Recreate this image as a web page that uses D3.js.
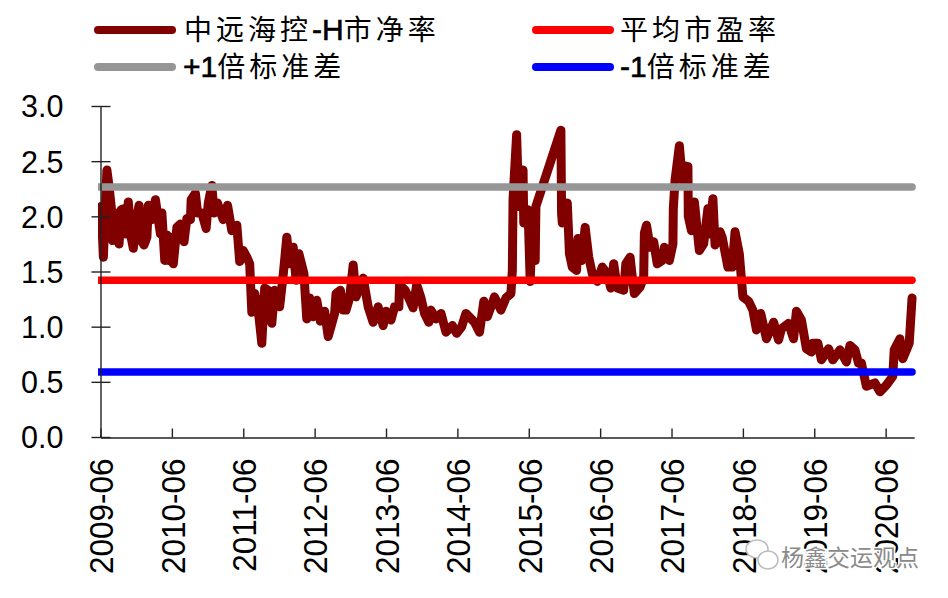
<!DOCTYPE html>
<html>
<head>
<meta charset="utf-8">
<script src="https://cdnjs.cloudflare.com/ajax/libs/d3/7.8.5/d3.min.js"></script>
<style>
html, body { margin: 0; padding: 0; background: #fff; }
text { font-family: "Liberation Sans", "Noto Sans CJK SC", sans-serif; fill: #000; }
</style>
</head>
<body>
<div id="chart"></div>
<script>
// decimal year of each reading
var years = [
	2009.43,2009.46,2009.48,2009.51,2009.54,2009.57,2009.59,2009.63,2009.68,2009.71,2009.75,2009.77,2009.81,2009.84,2009.88,2009.91,2009.96,2009.99,
	2010.03,2010.07,2010.09,2010.14,2010.19,2010.26,2010.28,2010.32,2010.35,2010.37,2010.40,2010.44,2010.49,2010.54,2010.59,2010.63,2010.68,2010.69,2010.75,2010.78,2010.84,2010.90,2010.93,2010.98,
	2011.01,2011.06,2011.10,2011.14,2011.20,2011.26,2011.33,2011.37,2011.42,2011.47,2011.51,2011.54,2011.58,2011.63,2011.68,2011.72,2011.77,2011.82,2011.86,2011.93,2011.98,
	2012.03,2012.07,2012.12,2012.16,2012.20,2012.27,2012.31,2012.35,2012.40,2012.45,2012.50,2012.56,2012.61,2012.70,2012.72,2012.78,2012.82,2012.86,2012.91,2012.96,
	2013.00,2013.10,2013.17,2013.24,2013.31,2013.38,2013.42,2013.49,2013.54,2013.60,2013.61,2013.69,2013.80,2013.85,2013.91,2013.96,
	2014.02,2014.05,2014.12,2014.19,2014.26,2014.35,2014.41,2014.48,2014.54,2014.66,2014.73,2014.79,2014.84,2014.94,
	2015.03,2015.10,2015.17,2015.19,2015.20,2015.25,2015.28,2015.31,2015.34,2015.35,2015.41,2015.44,2015.47,2015.51,2015.52,2015.87,2015.88,2015.89,2015.96,2015.99,
	2016.03,2016.09,2016.11,2016.16,2016.21,2016.26,2016.31,2016.38,2016.45,2016.52,2016.57,2016.61,2016.66,2016.75,2016.78,2016.84,2016.87,2016.90,2016.98,
	2017.03,2017.04,2017.07,2017.12,2017.17,2017.22,2017.29,2017.32,2017.39,2017.44,2017.445,2017.47,2017.53,2017.57,2017.59,2017.65,2017.655,2017.70,2017.74,2017.81,2017.87,2017.93,2017.95,
	2018.00,2018.03,2018.10,2018.13,2018.21,2018.27,2018.31,2018.37,2018.42,2018.50,2018.56,2018.61,2018.67,2018.75,2018.85,2018.92,2018.96,
	2019.06,2019.13,2019.17,2019.24,2019.31,2019.38,2019.40,2019.47,2019.52,2019.62,2019.68,2019.78,2019.87,2019.92,2019.99,
	2020.04,2020.08,2020.15,2020.27,2020.34,2020.43,2020.52,2020.54,2020.62,2020.66,2020.75,2020.79
];
var pbValues = [
	2.09,1.63,1.94,2.42,2.27,2.09,1.78,2.03,1.75,2.06,2.07,1.84,2.13,1.84,1.71,1.94,2.10,1.78,
	1.74,1.81,2.10,1.97,2.15,1.84,2.03,1.60,1.83,1.60,1.81,1.57,1.90,1.93,1.77,1.98,1.97,2.15,2.21,2.03,2.03,1.89,2.12,2.28,
	2.03,2.12,2.04,1.97,2.10,1.87,1.92,1.59,1.69,1.63,1.57,1.13,1.30,1.15,0.85,1.35,1.33,1.03,1.33,1.18,1.47,
	1.81,1.57,1.72,1.42,1.66,1.48,1.07,1.26,1.09,1.24,1.05,1.14,0.91,1.12,1.30,1.33,1.15,1.15,1.26,1.56,
	1.27,1.44,1.18,1.04,1.18,1.01,1.14,1.06,1.18,1.18,1.38,1.33,1.17,1.38,1.26,1.12,
	1.04,1.15,1.07,1.12,0.95,1.01,0.94,1.00,1.12,1.04,0.95,1.23,1.09,1.27,
	1.15,1.26,1.30,1.51,2.16,2.74,2.09,2.39,2.42,1.94,2.06,1.41,1.97,1.60,2.09,2.78,2.02,1.94,2.12,1.66,
	1.54,1.51,1.80,1.60,1.90,1.63,1.48,1.41,1.54,1.48,1.35,1.57,1.35,1.33,1.57,1.63,1.45,1.30,1.36,
	1.45,1.85,1.92,1.72,1.77,1.57,1.60,1.72,1.60,1.75,2.07,2.33,2.64,2.33,2.46,2.45,2.00,1.87,2.13,1.69,1.75,2.07,1.84,
	2.16,1.74,1.86,1.81,1.54,1.54,1.86,1.66,1.27,1.23,1.15,0.97,1.12,0.89,1.04,0.88,0.98,
	1.03,0.89,1.14,1.06,0.80,0.77,0.85,0.85,0.70,0.80,0.70,0.79,0.68,0.83,0.79,
	0.67,0.67,0.46,0.49,0.41,0.47,0.55,0.79,0.89,0.71,0.85,1.26
];
var meanValue = 1.42;
var plusOneStd = 2.265;
var minusOneStd = 0.59;
var tickLabels = ["2009-06","2010-06","2011-06","2012-06","2013-06","2014-06","2015-06","2016-06","2017-06","2018-06","2019-06","2020-06"];
var tickYears = [2009.42,2010.42,2011.42,2012.42,2013.42,2014.42,2015.42,2016.42,2017.42,2018.42,2019.42,2020.42];
var yTicks = [0,0.5,1,1.5,2,2.5,3];

var COLOR_PB = "#800000", COLOR_MEAN = "#ff0000", COLOR_PLUS = "#969696", COLOR_MINUS = "#0000ff";
var width = 948, height = 598;

var svg = d3.select("#chart").append("svg")
	.attr("width", width)
	.attr("height", height)
	.style("display", "block");

var x = d3.scaleLinear().domain([2009.42, 2020.82]).range([100.5, 914.2]);
var y = d3.scaleLinear().domain([0, 3]).range([437, 106]);

svg.append("clipPath").attr("id", "plotClip").append("rect")
	.attr("x", 98).attr("y", 90).attr("width", 830).attr("height", 360);

var marks = svg.append("g").attr("clip-path", "url(#plotClip)");

// axes
var yAxis = svg.append("g")
	.attr("transform", "translate(100.5,0)")
	.call(d3.axisLeft(y).tickValues(yTicks).tickSize(9).tickSizeOuter(0).tickFormat(d3.format(".1f")));
yAxis.selectAll(".tick line").attr("x2", -9).attr("x1", 10).attr("stroke", "#222").attr("stroke-width", 1.4);
yAxis.select(".domain").attr("stroke", "#222").attr("stroke-width", 1.4);
yAxis.selectAll("text")
	.attr("x", -37)
	.attr("dy", "0.36em")
	.style("font-size", "30.5px");

var xAxis = svg.append("g")
	.attr("transform", "translate(0,437.5)")
	.call(d3.axisBottom(x).tickValues(tickYears).tickSize(-9).tickSizeOuter(0).tickFormat(function (d, i) { return tickLabels[i]; }));
xAxis.selectAll(".tick line").attr("stroke", "#222").attr("stroke-width", 1.4);
xAxis.select(".domain").attr("stroke", "#222").attr("stroke-width", 1.4);
// the labels in the original are a bit stretched across the text direction
xAxis.selectAll("text")
	.attr("transform", "rotate(-90) scale(1,1.08)")
	.attr("x", -21)
	.attr("y", 0)
	.attr("dy", "0.36em")
	.style("text-anchor", "end")
	.style("font-size", "31.5px");

// series
var line = d3.line()
	.x(function (d, i) { return x(years[i]); })
	.y(function (d) { return y(d); });

marks.append("path")
	.datum(pbValues)
	.attr("d", line)
	.attr("fill", "none")
	.attr("stroke", COLOR_PB)
	.attr("stroke-width", 9)
	.attr("stroke-linejoin", "round")
	.attr("stroke-linecap", "round");

var lastYear = years[years.length - 1];
[[plusOneStd, COLOR_PLUS], [meanValue, COLOR_MEAN], [minusOneStd, COLOR_MINUS]].forEach(function (r) {
	marks.append("line")
		.attr("x1", x(years[0]) - 3)
		.attr("x2", x(lastYear))
		.attr("y1", y(r[0]))
		.attr("y2", y(r[0]))
		.attr("stroke", r[1])
		.attr("stroke-width", 7.5)
		.attr("stroke-linecap", "round");
});

// legend
var legendItems = [
	{ label: "中远海控-H市净率", color: COLOR_PB, lx: 98, ly: 30, tx: 184 },
	{ label: "平均市盈率", color: COLOR_MEAN, lx: 536, ly: 30, tx: 620 },
	{ label: "+1倍标准差", color: COLOR_PLUS, lx: 98, ly: 67, tx: 183 },
	{ label: "-1倍标准差", color: COLOR_MINUS, lx: 536, ly: 67, tx: 620 }
];
var legend = svg.append("g");
legendItems.forEach(function (d) {
	legend.append("line")
		.attr("x1", d.lx).attr("x2", d.lx + 74)
		.attr("y1", d.ly).attr("y2", d.ly)
		.attr("stroke", d.color)
		.attr("stroke-width", 8)
		.attr("stroke-linecap", "round");
	var label = legend.append("text")
		.attr("x", d.tx)
		.attr("y", d.ly + 10);
	// latin runs stay tight, only the chinese runs are spaced out
	d.label.match(/[\x00-\x7f]+|[^\x00-\x7f]+/g).forEach(function (run) {
		var latin = /^[\x00-\x7f]/.test(run);
		label.append("tspan")
			.style("font-size", latin ? "30px" : "28px")
			.style("letter-spacing", latin ? "0px" : "4px")
			.style("stroke", latin ? "#000" : "none")
			.style("stroke-width", latin ? 0.6 : 0)
			.text(run);
	});
});

// watermark over the last tick labels
var mark = svg.append("g");
mark.append("text")
	.attr("x", 781).attr("y", 566)
	.style("font-size", "23px")
	.style("stroke", "#fff")
	.style("stroke-width", 3)
	.style("paint-order", "stroke")
	.style("fill", "#8a8a8a")
	.text("杨鑫交运观点");
mark.append("ellipse").attr("cx", 757).attr("cy", 549).attr("rx", 11).attr("ry", 9)
	.attr("fill", "#fff").attr("stroke", "#bbb").attr("stroke-width", 1.5);
mark.append("ellipse").attr("cx", 768).attr("cy", 560).attr("rx", 10).attr("ry", 9)
	.attr("fill", "#fff").attr("stroke", "#bbb").attr("stroke-width", 1.5);
</script>
</body>
</html>
